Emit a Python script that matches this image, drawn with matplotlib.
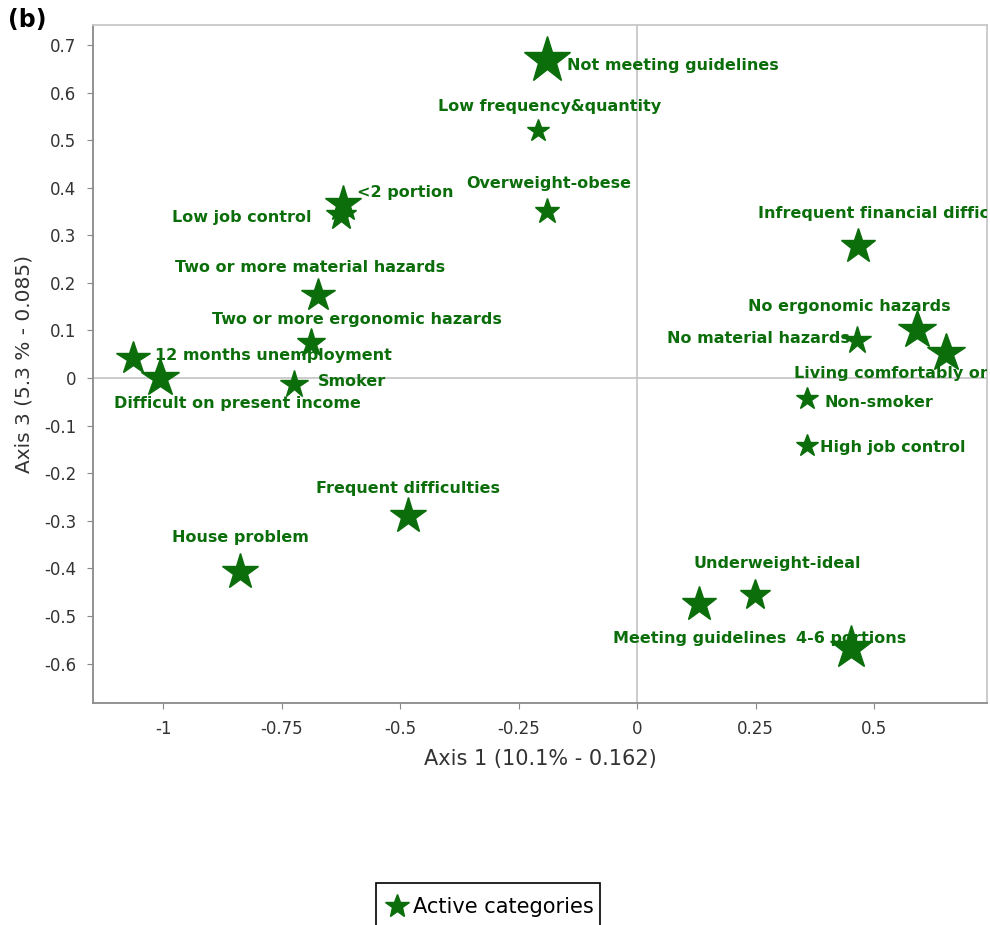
import numpy as np
import matplotlib
matplotlib.use("Agg")
import matplotlib.pyplot as plt
from matplotlib.lines import Line2D
from matplotlib.patches import Rectangle

# Category coordinates on axis 1 / axis 3 and their representation quality
categories = ["Not meeting guidelines", "Low frequency&quantity", "Overweight-obese",
              "<2 portion", "Low job control", "Infrequent financial difficulties",
              "Two or more material hazards", "Two or more ergonomic hazards",
              "No ergonomic hazards", "No material hazards",
              "Living comfortably on present income", "12 months unemployment",
              "Difficult on present income", "Smoker", "Non-smoker", "High job control",
              "Frequent difficulties", "House problem", "Underweight-ideal",
              "Meeting guidelines", "4-6 portions"]
axis1 = [-0.19, -0.21, -0.19, -0.62, -0.625, 0.466, -0.673, -0.688, 0.59, 0.464,
         0.652, -1.063, -1.006, -0.724, 0.359, 0.359, -0.483, -0.838, 0.249, 0.131, 0.451]
axis3 = [0.668, 0.52, 0.35, 0.365, 0.343, 0.277, 0.175, 0.074, 0.10, 0.08,
         0.053, 0.042, 0.0, -0.013, -0.044, -0.143, -0.29, -0.408, -0.456, -0.475, -0.568]
quality = [1.0, 0.48, 0.54, 0.78, 0.65, 0.74, 0.72, 0.61, 0.83, 0.59,
           0.83, 0.72, 0.83, 0.59, 0.48, 0.48, 0.78, 0.78, 0.65, 0.74, 0.93]

# label offsets in pixels (dx, dy up) and alignment
label_pos = {
    "Not meeting guidelines": (20, -5, "left"),
    "Low frequency&quantity": (12, 24, "center"),
    "Overweight-obese": (2, 28, "center"),
    "<2 portion": (14, 12, "left"),
    "Low job control": (-29, -3, "right"),
    "Infrequent financial difficulties": (-100, 33, "left"),
    "Two or more material hazards": (-8, 27, "center"),
    "Two or more ergonomic hazards": (46, 23, "center"),
    "No ergonomic hazards": (-68, 24, "center"),
    "No material hazards": (-7, 1, "right"),
    "Living comfortably on present income": (-152, -21, "left"),
    "12 months unemployment": (22, 3, "left"),
    "Difficult on present income": (77, -25, "center"),
    "Smoker": (24, 3, "left"),
    "Non-smoker": (17, -4, "left"),
    "High job control": (13, -1, "left"),
    "Frequent difficulties": (0, 28, "center"),
    "House problem": (0, 35, "center"),
    "Underweight-ideal": (22, 31, "center"),
    "Meeting guidelines": (0, -34, "center"),
    "4-6 portions": (0, 10, "center"),
}

green = "#0b6e0b"
fig = plt.figure(figsize=(9.9, 9.25), dpi=100)
ax = fig.add_axes([0.094, 0.24, 0.903, 0.733])

ax.axhline(0, color="#c4c4c4", lw=1.2, zorder=1)
ax.axvline(0, color="#c4c4c4", lw=1.2, zorder=1)

for name, x, y, q in zip(categories, axis1, axis3, quality):
    ax.plot(x, y, marker="*", ms=35 * q, color=green, mec=green, ls="none", zorder=3)
    dx, dy, ha = label_pos[name]
    ax.annotate(name, (x, y), xytext=(dx, dy), textcoords="offset pixels",
                ha=ha, va="center", color=green, fontsize=11.5, fontweight="bold",
                clip_on=True, zorder=4)

ax.set_xlim(-1.148, 0.738)
ax.set_ylim(-0.683, 0.742)
ax.set_xticks([-1, -0.75, -0.5, -0.25, 0, 0.25, 0.5])
ax.set_xticklabels(["-1", "-0.75", "-0.5", "-0.25", "0", "0.25", "0.5"])
ax.set_yticks(np.round(np.arange(-0.6, 0.71, 0.1), 1))
ax.set_yticklabels(["-0.6", "-0.5", "-0.4", "-0.3", "-0.2", "-0.1", "0",
                    "0.1", "0.2", "0.3", "0.4", "0.5", "0.6", "0.7"])
ax.tick_params(direction="out", length=4, color="#888888", labelcolor="#333333",
               labelsize=12, pad=8)
for s in ["left", "bottom"]:
    ax.spines[s].set_color("#8a8a8a")
    ax.spines[s].set_linewidth(1.3)
for s in ["top", "right"]:
    ax.spines[s].set_color("#c8c8c8")
    ax.spines[s].set_linewidth(1.3)

ax.set_xlabel("Axis 1 (10.1% - 0.162)", fontsize=15, color="#333333", labelpad=8)
ax.set_ylabel("Axis 3 (5.3 % - 0.085)", fontsize=14.5, color="#333333", labelpad=8)

fig.text(0.008, 0.978, "(b)", fontsize=17, fontweight="bold", va="center")

# legend without its own frame; box drawn separately, running off the bottom edge
handle = Line2D([], [], marker="*", ms=18, color=green, ls="none")
fig.legend([handle], ["Active categories"], loc="center",
           bbox_to_anchor=(0.494, 0.019), fontsize=15, frameon=False,
           handletextpad=0.2, handlelength=1.2, borderpad=0, borderaxespad=0)
fig.patches.append(Rectangle((0.380, -0.02), 0.226, 0.065, transform=fig.transFigure,
                             fill=False, edgecolor="black", linewidth=1.2))

fig.savefig("out.png", dpi=100)
